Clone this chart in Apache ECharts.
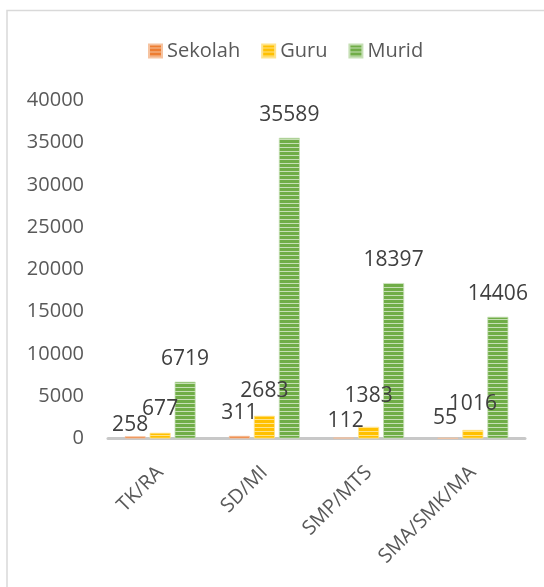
<!DOCTYPE html>
<html>
<head>
<meta charset="utf-8">
<script src="https://cdn.jsdelivr.net/npm/echarts@6/dist/echarts.min.js"></script>
<style>
  html, body { margin: 0; padding: 0; background: #fff; }
  #chart { width: 544px; height: 587px; }
</style>
</head>
<body>
<div id="chart"></div>
<script>
// ---- data ----
const categories = ['TK/RA', 'SD/MI', 'SMP/MTS', 'SMA/SMK/MA'];
const seriesNames = ['Sekolah', 'Guru', 'Murid'];
const sekolah = [258, 311, 112, 55];
const guru = [677, 2683, 1383, 1016];
const murid = [6719, 35589, 18397, 14406];
const yMin = 0, yMax = 40000, yStep = 5000;

// ---- styling ----
const FONT = '"Open Sans", "Noto Sans", sans-serif';
const TEXT = '#404040';
const AXIS_TEXT = '#595959';

function stripePattern(base, light) {
  const c = document.createElement('canvas');
  c.width = 4; c.height = 4;
  const ctx = c.getContext('2d');
  ctx.fillStyle = base; ctx.fillRect(0, 0, 4, 4);
  ctx.fillStyle = light; ctx.fillRect(0, 3, 4, 1);
  return { image: c, repeat: 'repeat' };
}

const styles = [
  { base: '#ED7D31', light: '#f6c3a0' },
  { base: '#FFC000', light: '#ffe38a' },
  { base: '#70AD47', light: '#c6dfb5' }
];

// per-point label nudges (label placement tweaks only)
const nudges = [
  [[-5, 12], [0, 0], [2, 6], [-3, 3]],
  [[0, -1], [0, -2], [0, -8], [0, -3]],
  [[0, 0], [0, 0], [0, 0], [0, 0]]
];

const values = [sekolah, guru, murid];

const chart = echarts.init(document.getElementById('chart'), null, { renderer: 'canvas' });

const series = values.map((vals, si) => ({
  name: seriesNames[si],
  type: 'bar',
  barWidth: 21,
  barGap: '19%',
  itemStyle: {
    color: stripePattern(styles[si].base, styles[si].light),
    borderColor: styles[si].light,
    borderWidth: 0.8
  },
  label: {
    show: true,
    position: 'top',
    distance: 13,
    fontFamily: FONT,
    fontSize: 21,
    lineHeight: 20,
    color: TEXT
  },
  data: vals.map((v, i) => ({
    value: v,
    label: { offset: nudges[si][i] }
  }))
}));

chart.setOption({
  animation: false,
  backgroundColor: '#fff',
  textStyle: { fontFamily: FONT },
  graphic: [{
    type: 'rect',
    shape: { x: 7, y: 10.5, width: 700, height: 700 },
    style: { fill: 'none', stroke: '#d9d9d9', lineWidth: 1.5 },
    silent: true,
    z: -1
  }],
  legend: {
    top: 36,
    left: 143,
    itemWidth: 13,
    itemHeight: 13,
    itemGap: 21,
    icon: 'rect',
    textStyle: { fontFamily: FONT, fontSize: 20, color: AXIS_TEXT },
    data: seriesNames
  },
  grid: {
    left: 108,
    right: 19,
    top: 100.5,
    bottom: 148.5,
    containLabel: false
  },
  xAxis: {
    type: 'category',
    data: categories,
    axisLine: { show: true, lineStyle: { color: '#c8c8c8', width: 3 } },
    axisTick: { show: false },
    axisLabel: {
      interval: 0,
      rotate: 45,
      margin: 31,
      padding: [25, 0, 0, 0],
      fontFamily: FONT,
      fontSize: 20,
      color: AXIS_TEXT
    }
  },
  yAxis: {
    type: 'value',
    min: yMin,
    max: yMax,
    interval: yStep,
    axisLine: { show: false },
    axisTick: { show: false },
    splitLine: { show: false },
    axisLabel: {
      margin: 24,
      fontFamily: FONT,
      fontSize: 20,
      color: AXIS_TEXT,
      formatter: (v) => String(v)
    }
  },
  series: series
});
</script>
</body>
</html>
